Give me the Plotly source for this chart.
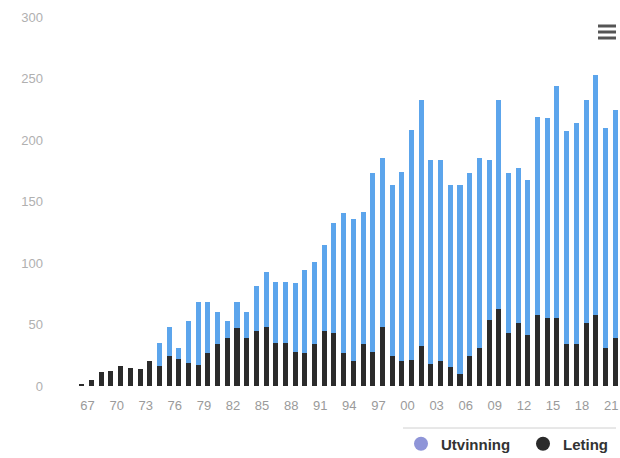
import plotly.graph_objects as go

years = list(range(1966, 2022))

leting = [1, 5, 11, 12.5, 16, 15, 14, 20, 16.5, 24.5,
          22, 18.5, 17, 26.5, 34.5, 39, 47, 39, 45, 48,
          35, 35, 28, 27, 34.5, 45, 43, 26.5, 20, 34.5,
          28, 48, 24.5, 20, 21.5, 32.5, 17.5, 20, 15.5, 10,
          24.5, 30.5, 54, 63, 43, 51, 41.5, 57.5, 55, 55,
          34.5, 34.5, 51.5, 57.5, 30.5, 39]

utvinning = [0, 0, 0, 0, 0, 0, 0, 0, 18.5, 23.5,
             8.5, 34, 51.5, 42, 26, 13.5, 21.5, 21, 36, 45,
             49.5, 49.5, 56, 67.5, 66.5, 69.5, 89.5, 114.5, 116, 107,
             145, 137, 139, 154, 186.5, 200, 166, 163.5, 148, 153.5,
             148.5, 154.5, 129.5, 169.5, 130, 126, 126, 161.5, 162.5, 189,
             172.5, 179, 181, 195.5, 179, 185.5]

tick_years = list(range(1967, 2022, 3))
tick_text = [str(y)[-2:] for y in tick_years]
y_ticks = [0, 50, 100, 150, 200, 250, 300]

W, H = 620, 458
BLUE = "#5ca5ec"
BLACK = "#2b2b2b"

fig = go.Figure()
fig.add_trace(go.Bar(x=years, y=leting, name="Leting", marker_color=BLACK,
                     marker_line_width=0, showlegend=False))
fig.add_trace(go.Bar(x=years, y=utvinning, name="Utvinning", marker_color=BLUE,
                     marker_line_width=0, showlegend=False))
# legend entries with round markers
fig.add_trace(go.Scatter(x=[None], y=[None], mode="markers", name="Utvinning",
                         marker=dict(symbol="circle", size=14, color="#8f95d8")))
fig.add_trace(go.Scatter(x=[None], y=[None], mode="markers", name="Leting",
                         marker=dict(symbol="circle", size=14, color=BLACK)))

def px(x):
    return x / W

def py(y):
    return 1 - y / H

shapes = [
    dict(type="line", xref="paper", yref="paper", x0=px(403), x1=px(616),
         y0=py(428), y1=py(428), line=dict(color="#d0d0d0", width=1)),
]
for yy in (26, 32, 38):
    shapes.append(dict(type="line", xref="paper", yref="paper", x0=px(598), x1=px(616),
                       y0=py(yy), y1=py(yy), line=dict(color="#555555", width=3)))

fig.update_layout(
    width=W, height=H,
    margin=dict(l=0, r=0, t=0, b=0, autoexpand=False),
    plot_bgcolor="white", paper_bgcolor="white",
    barmode="stack", bargap=0.48,
    font=dict(family="Liberation Sans, Arial, sans-serif"),
    xaxis=dict(domain=[px(77), 1.0], range=[1965.5, 2021.5], automargin=False,
               tickvals=tick_years, ticktext=tick_text,
               tickfont=dict(size=13, color="#9a9a9a"),
               showgrid=False, zeroline=False, showline=False, ticks="",
               ticklabelstandoff=10, ticklabelshift=-4, ticklabeloverflow="allow"),
    yaxis=dict(domain=[py(386), py(17)], range=[0, 300], automargin=False,
               tickvals=y_ticks, tickfont=dict(size=13, color="#b0b0b0"),
               showgrid=False, zeroline=False, showline=False, ticks="",
               ticklabelstandoff=33),
    legend=dict(orientation="h", x=px(401), xanchor="left", y=py(444), yanchor="middle",
                font=dict(size=15, color="#333333", weight="bold",
                          family="Liberation Sans, Arial, sans-serif"),
                itemwidth=30, entrywidth=77, entrywidthmode="pixels",
                bgcolor="rgba(0,0,0,0)", traceorder="normal"),
    shapes=shapes,
    showlegend=True,
)

fig.write_html("out.html", config={"displayModeBar": False},
               post_script="document.body.style.margin='0';document.body.style.overflow='hidden';")
